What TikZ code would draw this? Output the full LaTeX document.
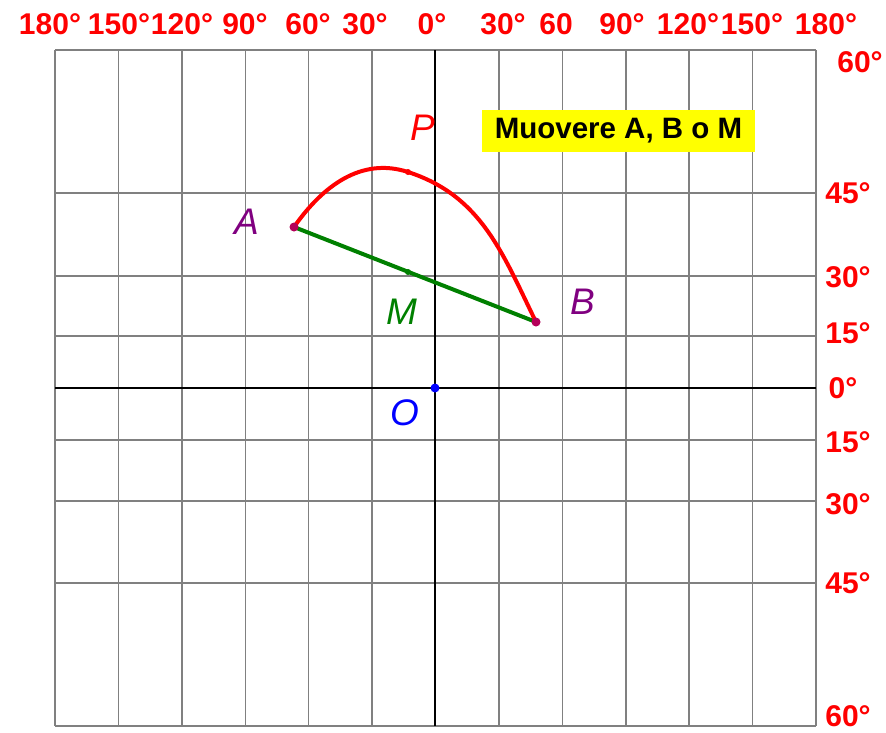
\documentclass[tikz,border=0pt]{standalone}
\usepackage{fontspec}
\setmainfont{Liberation Sans}
\usetikzlibrary{positioning}
\definecolor{gridgrey}{RGB}{128,128,128}
\definecolor{degred}{RGB}{255,0,0}
\definecolor{ptpurple}{RGB}{128,0,128}
\definecolor{enddot}{RGB}{180,0,90}
\definecolor{chordgreen}{RGB}{0,128,0}
\definecolor{origblue}{RGB}{0,0,255}
\definecolor{hintyellow}{RGB}{255,255,0}
\tikzset{
  gridline/.style={draw=gridgrey, line width=1.5pt},
  axis/.style={draw=black, line width=1.5pt},
  deg/.style={text=degred, font=\bfseries\fontsize{30}{30}\selectfont, inner sep=0pt},
  ptlbl/.style={font=\itshape\fontsize{37}{37}\selectfont, inner sep=0pt},
  arcline/.style={draw=degred, line width=4pt},
  chord/.style={draw=chordgreen, line width=4pt},
  dot/.style={circle, inner sep=0pt, minimum size=9pt},
  smalldot/.style={circle, inner sep=0pt, minimum size=6pt},
  hint/.style={fill=hintyellow, minimum width=273pt, minimum height=42pt, inner sep=0pt, font=\bfseries\fontsize{29.5}{29.5}\selectfont},
}

\begin{document}
\begin{tikzpicture}[x=1pt, y=-1pt]
  \useasboundingbox (0,0) rectangle (886,732);
  % meridians and parallels
  \foreach \k in {0,...,12} \draw[gridline] ({55+63.42*\k},50) -- ({55+63.42*\k},726);
  \foreach \y in {50,193,276,336,440,501,583,726} \draw[gridline] (55,\y) -- (816,\y);
  \draw[axis] (435,50) -- (435,726);
  \draw[axis] (55,388) -- (816,388);
  % longitudes
  \foreach \x/\t in {50/180°,119/150°,182/120°,245/90°,308/60°,365/30°,432/0°,503/30°,556/60,622/90°,688/120°,752/150°,826/180°}
    \node[deg] at (\x,24) {\t};
  % latitudes
  \foreach \x/\y/\t in {860/62/60°,848/193/45°,848/277/30°,848/333/15°,843/388/0°,848/442/15°,848/504/30°,848/583/45°,848/716/60°}
    \node[deg] at (\x,\y) {\t};
  \coordinate (A) at (294,227);
  \coordinate (B) at (536,322);
  \coordinate (M) at (408,272);
  \coordinate (P) at (408,172);
  \coordinate (O) at (435,388);
  \draw[chord] (A) -- (B);
  \draw[arcline] (A) to[out=55, in=162] (P) to[out=-18, in=116] (B);
  \node[dot, fill=enddot] (Adot) at (A) {};
  \node[dot, fill=enddot] (Bdot) at (B) {};
  \node[smalldot, fill=chordgreen] (Mdot) at (M) {};
  \node[smalldot, fill=degred] (Pdot) at (P) {};
  \node[dot, fill=origblue] (Odot) at (O) {};
  \node[ptlbl, text=ptpurple] (Alab) at (247,222) {A};
  \node[ptlbl, text=ptpurple] (Blab) at (583,302) {B};
  \node[ptlbl, text=chordgreen] (Mlab) at (402,312) {M};
  \node[ptlbl, text=degred] (Plab) at (423,128) {P};
  \node[ptlbl, text=origblue] (Olab) at (405,413) {O};
  \node[hint] (hint) at (618.5,131) {Muovere A, B o M};
\end{tikzpicture}
\end{document}
